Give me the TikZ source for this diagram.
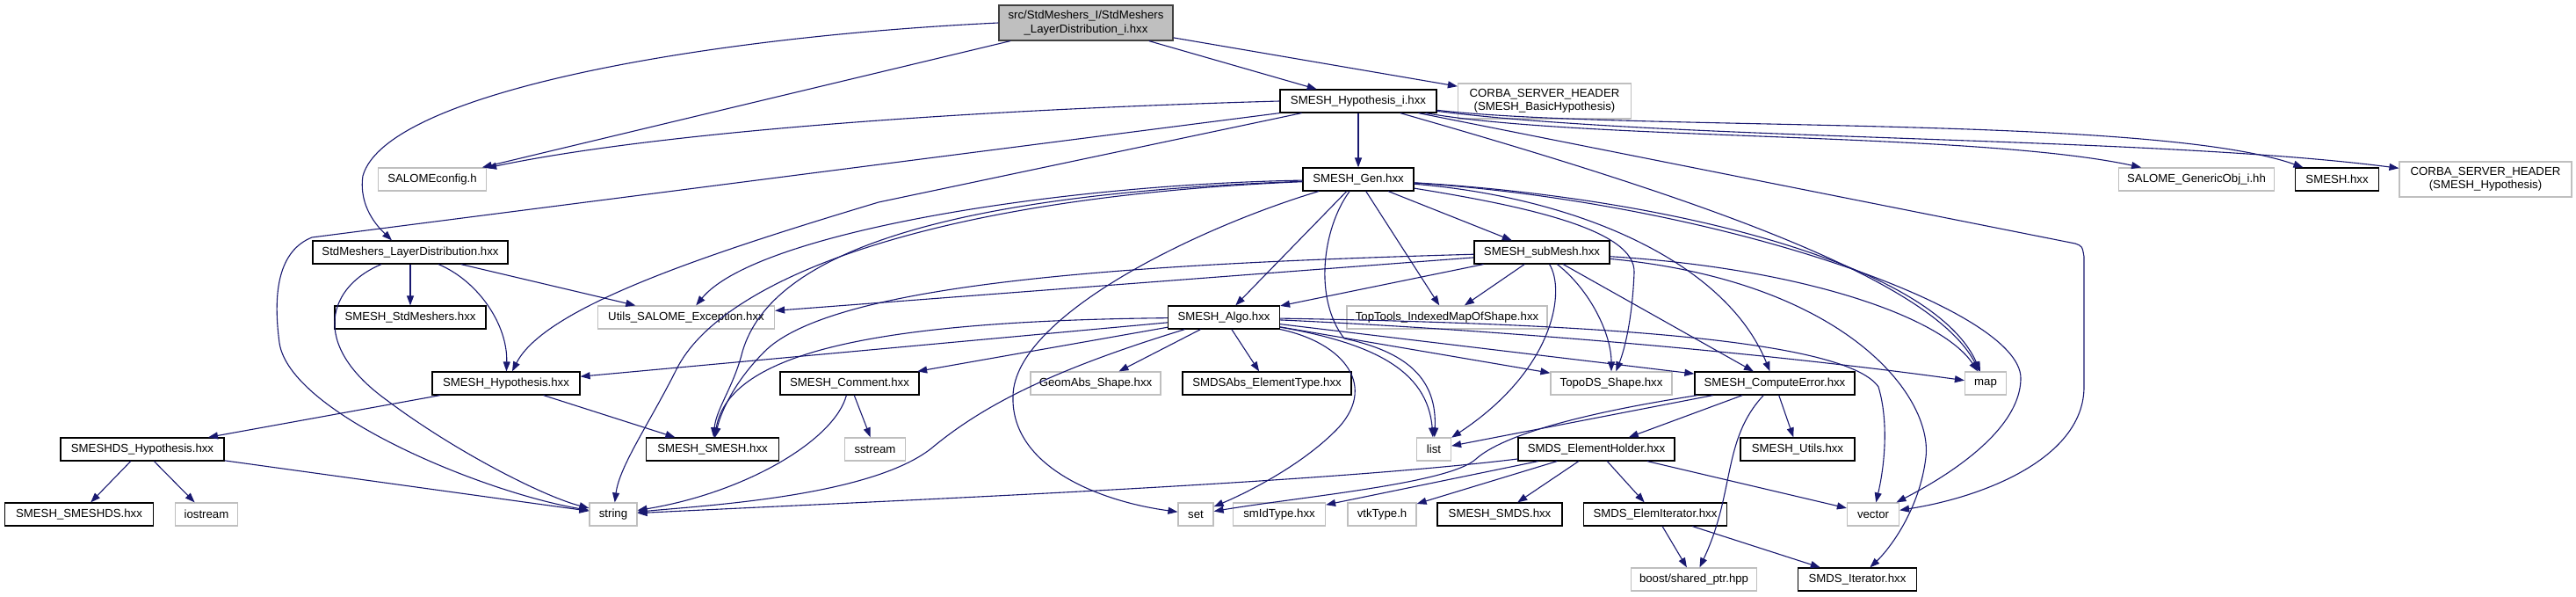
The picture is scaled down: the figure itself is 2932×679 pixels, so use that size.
\documentclass[tikz,border=0pt]{standalone}
\usepackage{fontspec}
\setmainfont{Liberation Sans}
\usetikzlibrary{arrows.meta}
\definecolor{edgec}{HTML}{191970}
\definecolor{grayb}{HTML}{BFBFBF}
\definecolor{rootb}{HTML}{404040}
\begin{document}
\begin{tikzpicture}[x=1pt,y=-1pt,
 nd/.style={rectangle, line width=1.2pt, inner sep=0pt, minimum height=26pt,
   font=\fontsize{13.2}{15.5}\selectfont, text=black, align=center},
 bn/.style={nd, draw=black},
 gn/.style={nd, draw=grayb},
 rn/.style={nd, draw=rootb, fill=grayb, minimum height=40pt},
 e/.style={draw=edgec, line width=1.1pt, -{Triangle[length=11pt,width=8pt]}}]
\useasboundingbox (0,0) rectangle (2932,679);
\fill[white] (0,0) rectangle (2932,679);
% nodes
\node[rn, minimum width=198pt] (root) at (1236,26) {src/StdMeshers\_I/StdMeshers\\\_LayerDistribution\_i.hxx};
\node[bn, minimum width=178pt] (hypi) at (1546,115) {SMESH\_Hypothesis\_i.hxx};
\node[gn, minimum width=197pt, minimum height=40pt] (corbab) at (1758,115) {CORBA\_SERVER\_HEADER\\(SMESH\_BasicHypothesis)};
\node[gn, minimum width=123pt] (salcfg) at (492,204) {SALOMEconfig.h};
\node[bn, minimum width=126pt] (gen) at (1546,204) {SMESH\_Gen.hxx};
\node[gn, minimum width=177pt] (genobj) at (2500,204) {SALOME\_GenericObj\_i.hh};
\node[bn, minimum width=95pt] (smeshh) at (2660,204) {SMESH.hxx};
\node[gn, minimum width=196pt, minimum height=40pt] (corbah) at (2829,204) {CORBA\_SERVER\_HEADER\\(SMESH\_Hypothesis)};
\node[bn, minimum width=222pt] (layer) at (467,287) {StdMeshers\_LayerDistribution.hxx};
\node[bn, minimum width=154pt] (submesh) at (1755,287) {SMESH\_subMesh.hxx};
\node[bn, minimum width=172pt] (stdm) at (467,361) {SMESH\_StdMeshers.hxx};
\node[gn, minimum width=201pt] (utils) at (781,361) {Utils\_SALOME\_Exception.hxx};
\node[bn, minimum width=127pt] (algo) at (1393,361) {SMESH\_Algo.hxx};
\node[gn, minimum width=228pt] (toptools) at (1647,361) {TopTools\_IndexedMapOfShape.hxx};
\node[bn, minimum width=168pt] (hyp) at (576,436) {SMESH\_Hypothesis.hxx};
\node[bn, minimum width=158pt] (comment) at (967,436) {SMESH\_Comment.hxx};
\node[gn, minimum width=148pt] (geomabs) at (1247,436) {GeomAbs\_Shape.hxx};
\node[bn, minimum width=192pt] (smdsabs) at (1442,436) {SMDSAbs\_ElementType.hxx};
\node[gn, minimum width=138pt] (topods) at (1834,436) {TopoDS\_Shape.hxx};
\node[bn, minimum width=182pt] (comperr) at (2020,436) {SMESH\_ComputeError.hxx};
\node[gn, minimum width=47pt] (map) at (2260,436) {map};
\node[bn, minimum width=186pt] (dshyp) at (162,511) {SMESHDS\_Hypothesis.hxx};
\node[bn, minimum width=151pt] (smeshsmesh) at (811,511) {SMESH\_SMESH.hxx};
\node[gn, minimum width=69pt] (sstream) at (996,511) {sstream};
\node[gn, minimum width=39pt] (list) at (1632,511) {list};
\node[bn, minimum width=178pt] (holder) at (1817,511) {SMDS\_ElementHolder.hxx};
\node[bn, minimum width=130pt] (sutils) at (2046,511) {SMESH\_Utils.hxx};
\node[bn, minimum width=169pt] (smeshds) at (90,585) {SMESH\_SMESHDS.hxx};
\node[gn, minimum width=71pt] (iostream) at (235,585) {iostream};
\node[gn, minimum width=54pt] (string) at (698,585) {string};
\node[gn, minimum width=40pt] (set) at (1361,585) {set};
\node[gn, minimum width=105pt] (smid) at (1456,585) {smIdType.hxx};
\node[gn, minimum width=78pt] (vtk) at (1573,585) {vtkType.h};
\node[bn, minimum width=142pt] (smds) at (1707,585) {SMESH\_SMDS.hxx};
\node[bn, minimum width=163pt] (elemit) at (1884,585) {SMDS\_ElemIterator.hxx};
\node[gn, minimum width=59pt] (vector) at (2132,585) {vector};
\node[gn, minimum width=143pt] (boost) at (1928,659) {boost/shared\_ptr.hpp};
\node[bn, minimum width=135pt] (iter) at (2114,659) {SMDS\_Iterator.hxx};
% root
\draw[e] (root) -- (salcfg);
\draw[e] (root.west) .. controls (800,42) and (440,105) .. (413,200) .. controls (408,235) and (430,258) .. ([xshift=-21pt]layer.north);
\draw[e] (root) -- (hypi);
\draw[e] (root) -- (corbab);
% SMESH_Hypothesis_i
\draw[e] (hypi.west) .. controls (1100,125) and (750,150) .. (salcfg);
\draw[e] (hypi.south west) -- (355,270) .. controls (318,285) and (310,330) .. (318,390) .. controls (330,470) and (550,560) .. (string);
\draw[e] (hypi) -- (1000,230) .. controls (800,290) and (620,350) .. (hyp);
\draw[e] (hypi) -- (gen);
\draw[e] (hypi) .. controls (1800,160) and (2250,150) .. (genobj);
\draw[e] (hypi) .. controls (1850,150) and (2450,130) .. (smeshh);
\draw[e] (hypi) .. controls (1900,160) and (2450,155) .. (corbah);
\draw[e] (hypi) .. controls (1950,230) and (2200,320) .. (map);
\draw[e] (hypi) -- (2362,277) .. controls (2370,280) .. (2372,292) -- (2372,440) .. controls (2372,520) and (2260,565) .. (vector);
% LayerDistribution
\draw[e] (layer) -- (stdm);
\draw[e] (layer) -- (utils);
\draw[e] (layer) .. controls (545,320) and (578,370) .. (hyp);
\draw[e] (layer) .. controls (375,325) and (350,390) .. (440,455) .. controls (520,515) and (620,565) .. (string);
% SMESH_Gen
\draw[e] (gen) -- (submesh);
\draw[e] (gen) -- (algo);
\draw[e] (gen) -- (toptools);
\draw[e] (gen) .. controls (1505,260) and (1495,340) .. (1530,385) .. controls (1600,400) and (1636,430) .. (list);
\draw[e] (gen) .. controls (1740,235) and (1862,262) .. (1860,310) .. controls (1858,360) and (1850,395) .. (topods);
\draw[e] (gen) .. controls (1800,225) and (1965,300) .. (comperr);
\draw[e] (gen) .. controls (1900,225) and (2200,300) .. (map);
\draw[e] (gen) .. controls (1950,230) and (2300,350) .. (2300,430) .. controls (2300,495) and (2200,550) .. (vector);
\draw[e] (gen) .. controls (1200,210) and (860,265) .. (utils);
\draw[e] (gen) .. controls (1100,220) and (880,280) .. (845,400) .. controls (835,440) and (815,465) .. (smeshsmesh);
\draw[e] (gen) .. controls (1050,225) and (820,320) .. (770,420) .. controls (740,480) and (705,530) .. (string);
\draw[e] (gen) .. controls (1360,260) and (1155,360) .. (1153,450) .. controls (1150,530) and (1250,570) .. (set);
% SMESH_subMesh
\draw[e] (submesh) -- (utils);
\draw[e] (submesh) .. controls (1300,300) and (950,320) .. (870,400) .. controls (835,435) and (820,470) .. (smeshsmesh);
\draw[e] (submesh) -- (algo);
\draw[e] (submesh) -- (toptools);
\draw[e] (submesh) .. controls (1782,330) and (1770,420) .. (list);
\draw[e] (submesh) .. controls (1810,330) and (1834,380) .. (topods);
\draw[e] (submesh) -- (comperr);
\draw[e] (submesh) .. controls (2050,305) and (2210,360) .. (map);
\draw[e] (submesh) .. controls (2100,320) and (2200,450) .. (2192,520) .. controls (2185,580) and (2150,625) .. (iter);
% SMESH_Algo
\draw[e] (algo) -- (hyp);
\draw[e] (algo) -- (comment);
\draw[e] (algo) .. controls (1000,365) and (830,400) .. (smeshsmesh);
\draw[e] (algo) .. controls (1200,420) and (1120,460) .. (1060,510) .. controls (990,565) and (800,575) .. (string);
\draw[e] (algo) -- (geomabs);
\draw[e] (algo) -- (smdsabs);
\draw[e] (algo) .. controls (1530,390) and (1570,440) .. (1520,490) .. controls (1480,530) and (1420,560) .. (set);
\draw[e] (algo) .. controls (1560,390) and (1625,420) .. (list);
\draw[e] (algo) -- (topods);
\draw[e] (algo) -- (comperr);
\draw[e] (algo) .. controls (1700,375) and (2000,400) .. (map);
\draw[e] (algo) .. controls (1800,368) and (2100,385) .. (2138,440) .. controls (2150,480) and (2145,530) .. (vector);
% SMESH_Hypothesis
\draw[e] (hyp) -- (dshyp);
\draw[e] (hyp) -- (smeshsmesh);
% SMESH_Comment
\draw[e] (comment) -- (sstream);
\draw[e] (comment) .. controls (950,500) and (850,560) .. (string);
% SMESHDS_Hypothesis
\draw[e] (dshyp) -- (smeshds);
\draw[e] (dshyp) -- (iostream);
\draw[e] (dshyp) -- (string);
% SMESH_ComputeError
\draw[e] (comperr) -- (holder);
\draw[e] (comperr) -- (sutils);
\draw[e] (comperr) -- (list);
\draw[e] (comperr) .. controls (1800,470) and (1710,495) .. (1680,522) .. controls (1650,550) and (1480,565) .. (set);
\draw[e] (comperr) .. controls (1960,500) and (1975,560) .. (boost);
% SMDS_ElementHolder
\draw[e] (holder) .. controls (1500,550) and (1000,570) .. (string);
\draw[e] (holder) -- (smid);
\draw[e] (holder) -- (vtk);
\draw[e] (holder) -- (smds);
\draw[e] (holder) -- (elemit);
\draw[e] (holder) -- (vector);
% SMDS_ElemIterator
\draw[e] (elemit) -- (boost);
\draw[e] (elemit) -- (iter);
\end{tikzpicture}
\end{document}
